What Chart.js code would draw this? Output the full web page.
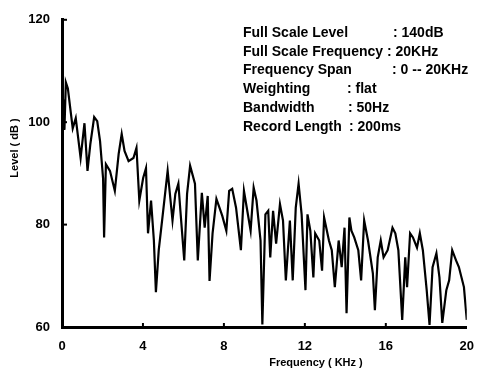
<!DOCTYPE html>
<html>
<head>
<meta charset="utf-8">
<script src="https://cdn.jsdelivr.net/npm/chart.js@4.4.1/dist/chart.umd.min.js"></script>
<style>
  html, body { margin: 0; padding: 0; background: #fff; }
  #wrap { width: 486px; height: 372px; position: relative; }
</style>
</head>
<body>
<div id="wrap"><canvas id="myChart" width="486" height="372"></canvas></div>
<script>
// spectrum
var freqKHz = [0.00, 0.05, 0.12, 0.19, 0.29, 0.43, 0.53, 0.68, 0.92, 1.11, 1.26, 1.40, 1.59, 1.74, 1.88, 2.03, 2.08, 2.17, 2.37, 2.61, 2.80, 2.95, 3.09, 3.29, 3.53, 3.68, 3.82, 4.01, 4.15, 4.25, 4.40, 4.54, 4.64, 4.78, 4.98, 5.22, 5.46, 5.60, 5.75, 5.85, 6.04, 6.18, 6.33, 6.57, 6.71, 6.91, 7.05, 7.20, 7.29, 7.44, 7.63, 7.78, 7.92, 8.12, 8.26, 8.41, 8.60, 8.84, 8.99, 9.13, 9.32, 9.47, 9.61, 9.81, 9.90, 10.05, 10.19, 10.29, 10.43, 10.58, 10.77, 10.92, 11.06, 11.26, 11.40, 11.55, 11.69, 11.84, 12.03, 12.13, 12.27, 12.42, 12.51, 12.71, 12.85, 12.95, 13.19, 13.33, 13.48, 13.67, 13.82, 13.96, 14.06, 14.20, 14.30, 14.44, 14.64, 14.78, 14.93, 15.12, 15.36, 15.46, 15.60, 15.75, 15.89, 16.09, 16.33, 16.47, 16.62, 16.81, 16.96, 17.05, 17.20, 17.34, 17.54, 17.68, 17.83, 18.02, 18.16, 18.31, 18.50, 18.65, 18.79, 18.99, 19.13, 19.28, 19.47, 19.61, 19.86, 20.00];
var levelDb = [100.0, 104.5, 98.5, 107.8, 106.6, 102.0, 98.8, 100.8, 93.0, 99.8, 90.5, 95.7, 101.0, 100.2, 96.3, 89.0, 77.5, 91.8, 90.5, 86.6, 93.8, 97.7, 94.4, 92.4, 93.0, 95.0, 84.7, 89.1, 91.0, 78.3, 84.7, 76.9, 66.8, 75.0, 82.0, 90.5, 80.8, 86.0, 88.0, 82.7, 73.0, 86.0, 91.5, 88.0, 73.0, 86.2, 79.4, 85.6, 69.0, 78.3, 85.0, 83.3, 81.7, 78.8, 86.6, 87.0, 83.3, 75.0, 86.6, 83.3, 78.8, 87.2, 84.7, 76.9, 60.5, 82.0, 82.7, 73.6, 82.7, 76.3, 84.0, 80.8, 69.1, 80.8, 69.1, 83.3, 88.0, 82.0, 67.2, 82.0, 78.8, 69.7, 78.3, 76.9, 71.0, 81.4, 76.9, 75.0, 67.8, 76.9, 71.7, 79.4, 62.7, 81.4, 78.8, 77.5, 75.0, 69.1, 80.8, 76.9, 70.5, 63.3, 73.6, 76.9, 73.6, 75.0, 79.4, 78.3, 75.0, 61.4, 73.6, 67.8, 78.3, 77.5, 75.5, 78.3, 75.0, 67.2, 60.4, 71.7, 74.4, 69.7, 60.8, 67.2, 69.1, 75.0, 73.0, 71.7, 67.8, 61.4];

var xTicks = [0, 4, 8, 12, 16, 20];
var yTicks = [60, 80, 100, 120];

var infoLabels = ["Full Scale Level", "Full Scale Frequency", "Frequency Span", "Weighting", "Bandwidth", "Record Length"];
var infoValues = ["140dB", "20KHz", "0 -- 20KHz", "flat", "50Hz", "200ms"];

var FONT = "'Liberation Sans', Arial, sans-serif";

var points = [];
for (var i = 0; i < freqKHz.length; i++) {
  points.push({ x: freqKHz[i], y: levelDb[i] });
}

// titles, notes and the little inward tick marks
var extras = {
  id: "extras",
  afterDraw: function (chart) {
    var ctx = chart.ctx;
    var xs = chart.scales.x;
    var ys = chart.scales.y;
    ctx.save();
    ctx.fillStyle = "#000";
    ctx.strokeStyle = "#000";

    // inward ticks
    ctx.lineWidth = 2;
    xTicks.slice(1, -1).forEach(function (v) {
      var px = xs.getPixelForValue(v);
      ctx.beginPath();
      ctx.moveTo(px, ys.bottom);
      ctx.lineTo(px, ys.bottom - 4);
      ctx.stroke();
    });
    yTicks.slice(1).forEach(function (v) {
      var py = ys.getPixelForValue(v);
      ctx.beginPath();
      ctx.moveTo(xs.left, py);
      ctx.lineTo(xs.left + 5, py);
      ctx.stroke();
    });

    // axis titles
    ctx.font = "bold 11px " + FONT;
    ctx.textAlign = "center";
    ctx.textBaseline = "middle";
    ctx.fillText("Frequency ( KHz )", 316, 363);
    ctx.save();
    ctx.translate(15, 148);
    ctx.rotate(-Math.PI / 2);
    ctx.fillText("Level ( dB )", 0, 0);
    ctx.restore();

    // measurement notes
    ctx.font = "bold 14px " + FONT;
    ctx.textAlign = "left";
    var colonX = [393, 387, 392, 347, 348, 349];
    for (var k = 0; k < infoLabels.length; k++) {
      var ty = 33 + k * 18.8;
      ctx.fillText(infoLabels[k], 243, ty);
      ctx.fillText(": " + infoValues[k], colonX[k], ty);
    }
    ctx.restore();
  }
};

var chart = new Chart(document.getElementById("myChart").getContext("2d"), {
  type: "line",
  data: {
    datasets: [
      {
        data: points,
        borderColor: "#000",
        borderWidth: 2.2,
        pointRadius: 0,
        tension: 0,
        fill: false
      }
    ]
  },
  options: {
    responsive: false,
    animation: false,
    layout: { padding: { left: 0, top: 16, right: 10, bottom: 0 } },
    plugins: { legend: { display: false }, tooltip: { enabled: false } },
    scales: {
      x: {
        type: "linear",
        min: 0,
        max: 20,
        afterFit: function (s) { s.height = 45; },
        afterBuildTicks: function (s) {
          s.ticks = xTicks.map(function (v) { return { value: v }; });
        },
        grid: { display: true, drawOnChartArea: false, drawTicks: false },
        border: { color: "#000", width: 3 },
        ticks: { color: "#000", padding: 12, font: { family: FONT, size: 13, weight: "bold" } }
      },
      y: {
        min: 60,
        max: 120,
        afterFit: function (s) { s.width = 62; },
        afterBuildTicks: function (s) {
          s.ticks = yTicks.map(function (v) { return { value: v }; });
        },
        grid: { display: true, drawOnChartArea: false, drawTicks: false },
        border: { color: "#000", width: 3 },
        ticks: { color: "#000", padding: 12, font: { family: FONT, size: 13, weight: "bold" } }
      }
    }
  },
  plugins: [extras]
});
</script>
</body>
</html>
